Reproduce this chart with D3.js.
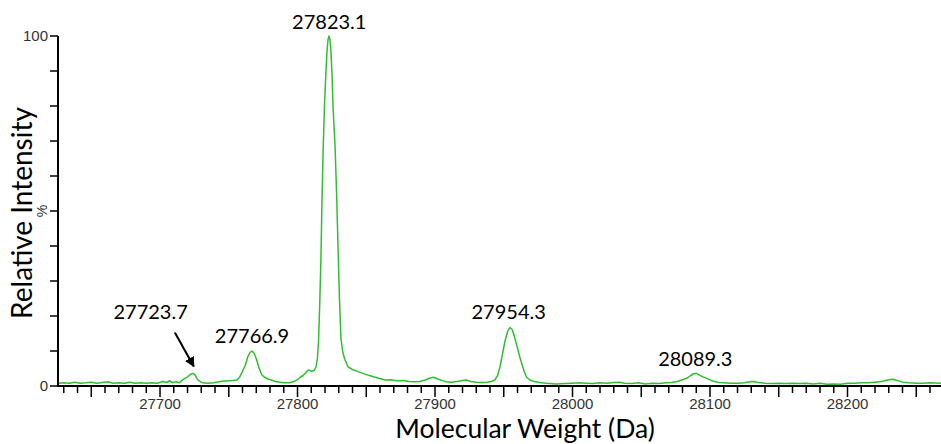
<!DOCTYPE html>
<html>
<head>
<meta charset="utf-8">
<script src="https://cdn.jsdelivr.net/npm/d3@7"></script>
<style>
  body { margin: 0; background: #fff; }
  svg { display: block; }
</style>
</head>
<body>
<div id="chart"></div>
<script>
// deconvoluted mass spectrum: relative intensity (%) vs molecular weight (Da)
const massDa = [
  27626, 27630, 27634, 27638, 27642, 27646, 27650, 27654, 27658, 27662, 27666, 27670,
  27674, 27678, 27682, 27686, 27690, 27694, 27698, 27702, 27705, 27707, 27709, 27712,
  27714, 27716, 27718, 27720, 27722, 27724, 27725.5, 27727, 27729, 27731, 27735, 27739,
  27743, 27747, 27750, 27753, 27756, 27758, 27760, 27762, 27764, 27765.5, 27767, 27768.5,
  27770, 27772, 27774, 27776, 27778.5, 27781, 27784, 27787, 27790, 27794, 27797, 27800,
  27802, 27804, 27806, 27808, 27810, 27812, 27813.5, 27814.5, 27815.3, 27816.2, 27817, 27817.8,
  27818.6, 27819.6, 27820.7, 27821.5, 27822.2, 27822.9, 27823.6, 27824.4, 27825.2, 27825.8, 27827.3, 27828.5,
  27829.5, 27830.5, 27831.6, 27833, 27834.5, 27836.7, 27840, 27844, 27849, 27854, 27859, 27864,
  27868, 27872, 27877, 27881, 27885, 27889, 27893, 27896, 27899, 27902, 27905, 27908,
  27912, 27916, 27920, 27923, 27926, 27930, 27934, 27938, 27941, 27943.5, 27945.5, 27947.3,
  27949, 27951, 27953, 27954.5, 27956, 27957.5, 27959.5, 27961.5, 27963, 27965, 27966.7, 27969,
  27972, 27976, 27981, 27988, 27995, 28000, 28005, 28010, 28015, 28020, 28025, 28030,
  28034, 28038, 28043, 28048, 28053, 28058, 28063, 28068, 28072, 28076, 28080, 28083,
  28086, 28088, 28090, 28092, 28095, 28098, 28102, 28106, 28110, 28115, 28120, 28125,
  28129, 28132, 28135, 28140, 28145, 28150, 28155, 28160, 28165, 28170, 28175, 28180,
  28185, 28190, 28195, 28200, 28205, 28210, 28215, 28220, 28225, 28229, 28233, 28236,
  28240, 28245, 28250, 28255, 28260, 28268
];
const intensityPct = [
  0.8, 0.9, 0.8, 1.1, 0.8, 0.9, 1.1, 0.8, 1.0, 1.2, 0.8, 0.9,
  0.8, 1.1, 0.8, 0.9, 0.8, 0.9, 0.8, 1.3, 1.0, 1.5, 1.0, 1.2,
  0.9, 1.6, 2.2, 2.6, 3.3, 3.6, 3.2, 2.0, 1.3, 0.9, 0.8, 0.9,
  1.2, 1.4, 1.5, 1.6, 1.7, 2.6, 4.2, 6.0, 8.5, 9.6, 10.0, 9.3,
  7.8, 5.2, 3.2, 2.5, 2.0, 1.7, 1.3, 1.1, 0.9, 0.9, 1.2, 1.8,
  2.5, 3.0, 3.8, 4.6, 4.2, 4.4, 5.5, 8.0, 13, 24, 36, 53,
  67, 80, 90, 96, 99, 100, 99, 95, 88, 80, 68.5, 54,
  39, 25, 13.5, 9.5, 7.5, 5.5, 4.7, 4.1, 3.4, 2.8, 2.2, 1.7,
  1.8, 1.5, 1.6, 1.3, 1.2, 1.3, 1.7, 2.2, 2.5, 2.0, 1.6, 1.2,
  1.1, 1.3, 1.6, 1.7, 1.3, 1.1, 1.0, 1.1, 1.3, 1.7, 3.0, 5.5,
  9.0, 13.0, 15.8, 16.7, 16.2, 14.5, 11.5, 8.5, 6.5, 4.0, 2.5, 1.7,
  1.3, 1.0, 0.8, 0.6, 0.7, 0.8, 0.9, 0.8, 0.7, 0.9, 0.8, 1.0,
  1.1, 0.8, 0.7, 0.9, 0.6, 0.8, 0.7, 0.9, 1.0, 1.3, 1.8, 2.2,
  3.0, 3.5, 3.6, 3.2, 2.6, 2.1, 1.4, 1.0, 0.9, 0.8, 0.8, 0.9,
  1.2, 1.3, 1.0, 0.8, 0.7, 0.8, 0.7, 0.8, 0.7, 0.8, 0.6, 0.8,
  0.5, 0.6, 0.5, 0.8, 0.8, 0.9, 0.9, 1.1, 1.3, 1.7, 1.9, 1.6,
  1.1, 0.9, 0.8, 0.8, 0.9, 0.8
];

// labelled peaks
const peakLabels = ["27723.7", "27766.9", "27823.1", "27954.3", "28089.3"];
const peakMass = [27723.7, 27766.9, 27823.1, 27954.3, 28089.3];
const peakHeight = [3.6, 10.0, 100, 16.7, 3.6];

const xTickLabels = [27700, 27800, 27900, 28000, 28100, 28200];
const yTickLabels = [0, 100];

const width = 941, height = 444;
const margin = { top: 36, right: 0, bottom: 58, left: 58 };

const svg = d3.select("#chart").append("svg")
  .attr("width", width)
  .attr("height", height);

const x = d3.scaleLinear()
  .domain([27625.8, 28268])
  .range([margin.left, width - margin.right]);

const y = d3.scaleLinear()
  .domain([0, 100])
  .range([height - margin.bottom, margin.top]);

// spectrum trace
const points = massDa.map((m, i) => [m, intensityPct[i]]);
svg.append("path")
  .datum(points)
  .attr("fill", "none")
  .attr("stroke", "#2fc02f")
  .attr("stroke-width", 1.5)
  .attr("stroke-linejoin", "round")
  .attr("d", d3.line().x(d => x(d[0])).y(d => y(d[1])));

// x axis: minor ticks every 10 Da, longer every 50 Da
const xAxis = svg.append("g")
  .attr("transform", "translate(0," + y(0) + ")");
xAxis.append("line")
  .attr("x1", x.range()[0]).attr("x2", x.range()[1])
  .attr("stroke", "#000").attr("stroke-width", 2);
const minor = d3.range(27630, 28270, 10);
xAxis.selectAll(".tick")
  .data(minor)
  .enter().append("line")
  .attr("class", "tick")
  .attr("x1", d => x(d)).attr("x2", d => x(d))
  .attr("y1", 0)
  .attr("y2", d => d % 50 === 0 ? 11 : 7)
  .attr("stroke", "#000").attr("stroke-width", 1.5);
xAxis.selectAll(".xlab")
  .data(xTickLabels)
  .enter().append("text")
  .attr("class", "xlab")
  .attr("x", d => x(d))
  .attr("y", 23)
  .attr("text-anchor", "middle")
  .style("font", "15px 'Liberation Sans', Arial, sans-serif")
  .style("fill", "#333")
  .text(d => d);

// y axis
const yAxis = svg.append("g")
  .attr("transform", "translate(" + x.range()[0] + ",0)");
yAxis.append("line")
  .attr("y1", y(0) + 1).attr("y2", y(100))
  .attr("stroke", "#000").attr("stroke-width", 2);
yAxis.selectAll(".tick")
  .data(d3.range(0, 101, 10))
  .enter().append("line")
  .attr("class", "tick")
  .attr("x1", -8).attr("x2", 0)
  .attr("y1", d => y(d)).attr("y2", d => y(d))
  .attr("stroke", "#000").attr("stroke-width", 1.5);
yAxis.selectAll(".ylab")
  .data(yTickLabels)
  .enter().append("text")
  .attr("class", "ylab")
  .attr("x", -10)
  .attr("y", d => y(d) + 5)
  .attr("text-anchor", "end")
  .style("font", "15px 'Liberation Sans', Arial, sans-serif")
  .style("fill", "#333")
  .text(d => d);
yAxis.append("text")
  .attr("transform", "translate(-11," + y(50) + ") rotate(-90)")
  .attr("text-anchor", "middle")
  .style("font", "14px 'Liberation Sans', Arial, sans-serif")
  .style("fill", "#333")
  .text("%");

// axis titles
svg.append("text")
  .attr("transform", "translate(32," + (y(50) + 2) + ") rotate(-90)")
  .attr("text-anchor", "middle")
  .style("font", "28px Lato, sans-serif")
  .style("fill", "#000")
  .text("Relative Intensity");

svg.append("text")
  .attr("x", 525)
  .attr("y", 438)
  .attr("text-anchor", "middle")
  .style("font", "26.5px Lato, sans-serif")
  .style("fill", "#000")
  .text("Molecular Weight (Da)");

// peak annotations
const labelOffset = [{ dx: -42, dy: -54 }, { dx: 0, dy: -8 }, { dx: 0, dy: -7 }, { dx: -1, dy: -9 }, { dx: 0, dy: -7 }];
svg.selectAll(".peak-label")
  .data(peakLabels)
  .enter().append("text")
  .attr("class", "peak-label")
  .attr("x", (d, i) => x(peakMass[i]) + labelOffset[i].dx)
  .attr("y", (d, i) => y(peakHeight[i]) + labelOffset[i].dy)
  .attr("text-anchor", "middle")
  .style("font", "20px Lato, sans-serif")
  .style("fill", "#000")
  .text(d => d);

// arrow pointing at the 27723.7 shoulder
svg.append("defs").append("marker")
  .attr("id", "arrowhead")
  .attr("viewBox", "0 0 10 10")
  .attr("refX", 9).attr("refY", 5)
  .attr("markerWidth", 5).attr("markerHeight", 5)
  .attr("orient", "auto")
  .append("path")
  .attr("d", "M0,0 L10,5 L0,10 z")
  .attr("fill", "#000");

svg.append("line")
  .attr("x1", x(27727.5) - 23).attr("y1", y(peakHeight[0]) - 41)
  .attr("x2", x(27727.5) - 4).attr("y2", y(peakHeight[0]) - 7)
  .attr("stroke", "#000")
  .attr("stroke-width", 2)
  .attr("marker-end", "url(#arrowhead)");
</script>
</body>
</html>
